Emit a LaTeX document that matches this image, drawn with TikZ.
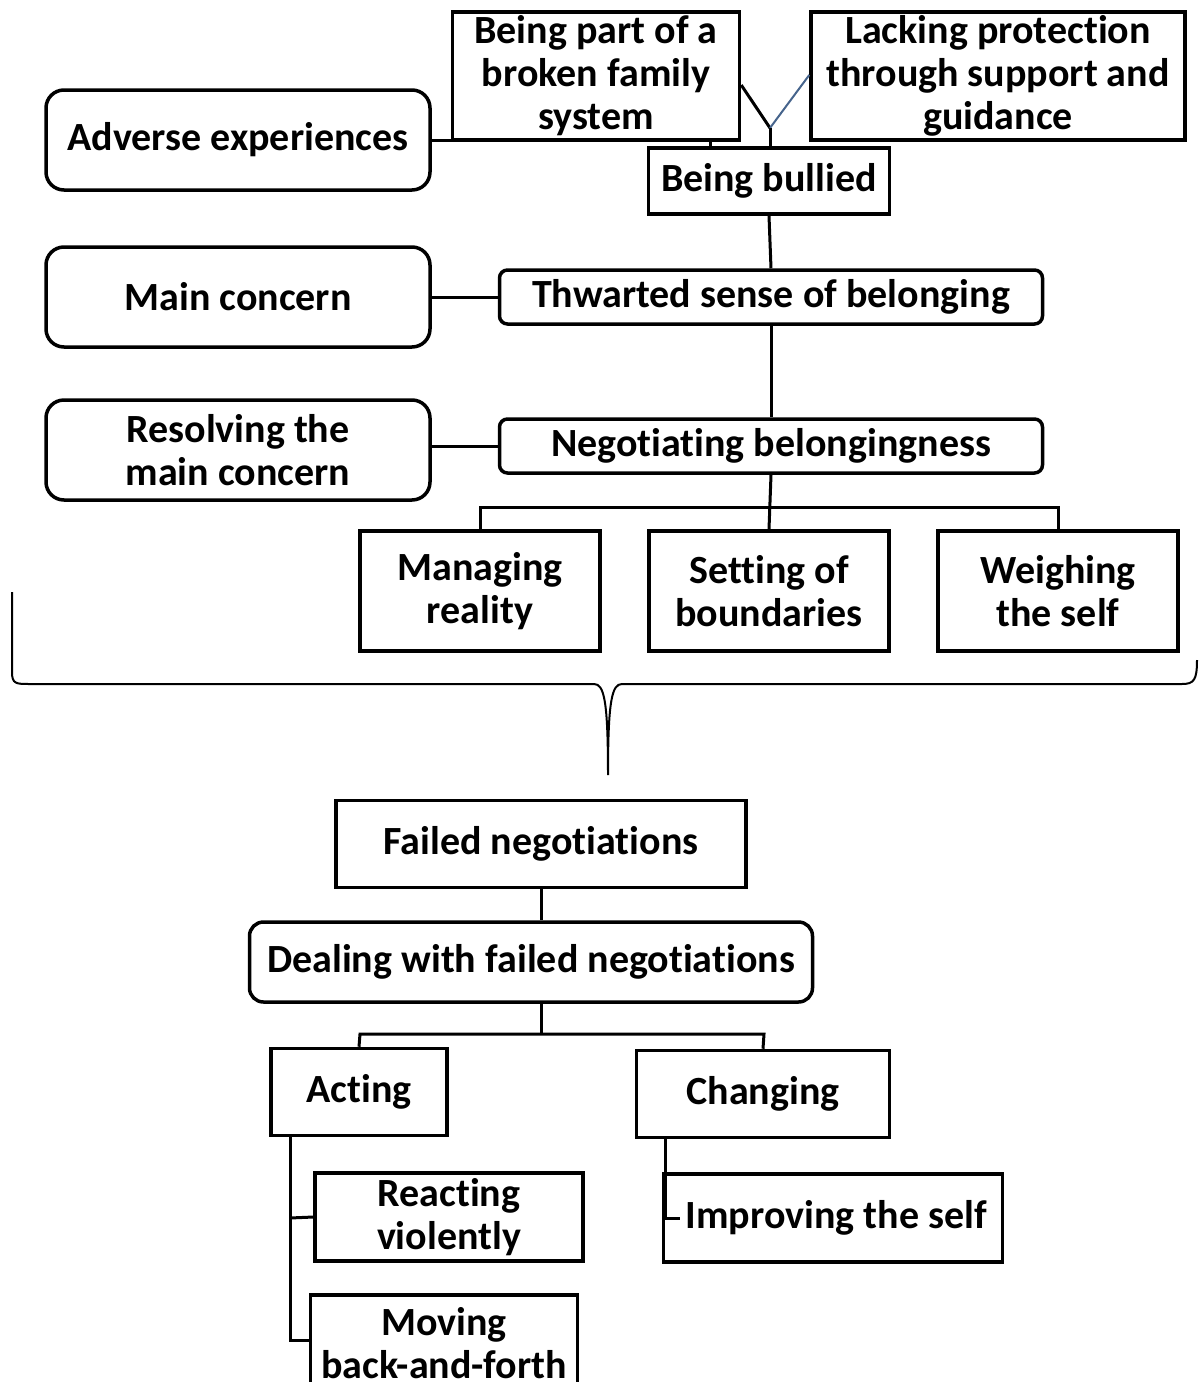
\documentclass[tikz,border=0pt]{standalone}
\usepackage{fontspec}
\setmainfont{Carlito}[Ligatures=NoCommon]
\usetikzlibrary{positioning}

\definecolor{linkblue}{RGB}{70, 100, 140}

\begin{document}
\begin{tikzpicture}[
        x=1pt, y=-1pt,
        every node/.style={font=\bfseries\fontsize{40}{43}\selectfont, align=center, inner sep=0pt},
        box/.style={draw, line width=3.5pt, fill=white},
        rbox/.style={box, rounded corners=18pt},
        sbox/.style={box, rounded corners=8pt},
        link/.style={line width=3pt}
    ]
    \useasboundingbox (0, 0) rectangle (1200, 1382);
    \clip (0, 0) rectangle (1200, 1382);

    % top part
    \node[rbox, minimum width=384pt, minimum height=100pt] (adverse) at (238, 140) {Adverse experiences};
    \node[box, minimum width=287pt, minimum height=128pt] (family) at (596, 76) {Being part of a\\broken family\\system};
    \node[box, minimum width=374pt, minimum height=128pt] (lacking) at (998, 76) {Lacking protection\\through support and\\guidance};
    \node[box, minimum width=241pt, minimum height=66pt] (bullied) at (769, 181) {Being bullied};
    \node[rbox, minimum width=384pt, minimum height=100pt] (mainc) at (238, 297) {Main concern};
    \node[sbox, minimum width=543pt, minimum height=54pt] (thwarted) at (771, 297) {Thwarted sense of belonging};
    \node[rbox, minimum width=384pt, minimum height=100pt] (resolving) at (238, 450) {Resolving the\\main concern};
    \node[sbox, minimum width=543pt, minimum height=54pt] (negot) at (771, 446) {Negotiating belongingness};
    \node[box, minimum width=240pt, minimum height=120pt] (managing) at (480, 591) {Managing\\reality};
    \node[box, minimum width=240pt, minimum height=120pt] (setting) at (769, 591) {Setting of\\boundaries};
    \node[box, minimum width=240pt, minimum height=120pt] (weighing) at (1058, 591) {Weighing\\the self};

    \coordinate (meet) at (770, 128);
    \draw[link] (family.east |- 0, 85) -- (meet);
    \draw[line width=2pt, linkblue] (lacking.west |- 0, 75) -- (meet);
    \draw[link] (meet) -- (bullied.north -| meet);
    \draw[link] (adverse.east) -- (710, 140) -- (710, 148);
    \draw[link] (bullied.south) -- (thwarted.north);
    \draw[link] (mainc.east) -- (thwarted.west);
    \draw[link] (thwarted.south) -- (negot.north);
    \draw[link] (resolving.east |- negot.west) -- (negot.west);
    \draw[link] (negot.south) -- (setting.north);
    \draw[link] (managing.north) -- (480, 507) -- (1058, 507) -- (weighing.north);

    % brace
    \draw[line width=2pt] (12, 592) -- (12, 672) .. controls (12, 684) and (16, 684) .. (30, 684)
        -- (594, 684) .. controls (604, 684) and (608, 700) .. (608, 775)
        .. controls (608, 700) and (612, 684) .. (622, 684) -- (1182, 684)
        .. controls (1194, 684) and (1197, 680) .. (1197, 660);

    % bottom part
    \node[box, minimum width=410pt, minimum height=87pt] (failed) at (541, 844) {Failed negotiations};
    \node[rbox, rounded corners=14pt, minimum width=563pt, minimum height=80pt] (dealing) at (531, 962) {Dealing with failed negotiations};
    \node[box, minimum width=176pt, minimum height=87pt] (acting) at (359, 1092) {Acting};
    \node[box, minimum width=253pt, minimum height=87pt] (changing) at (763, 1094) {Changing};
    \node[box, minimum width=268pt, minimum height=88pt] (reacting) at (449, 1217) {Reacting\\violently};
    \node[box, minimum width=267pt, minimum height=96pt] (moving) at (444, 1343) {Moving\\back-and-forth};
    \node[box, minimum width=339pt, minimum height=88pt] (improving) at (833, 1218) {\,Improving the self};

    \draw[link] (failed.south -| 541, 0) -- (dealing.north -| 541, 0);
    \draw[link] (dealing.south -| 541, 0) -- (541, 1034);
    \draw[link] (acting.north) -- (360, 1034) -- (764, 1034) -- (changing.north);
    \draw[link] (acting.south -| 290, 0) -- (290, 1340) -- (moving.west |- 0, 1340);
    \draw[link] (290, 1218) -- (reacting.west);
    \draw[link] (changing.south -| 665, 0) -- (665, 1218) -- (680, 1218);
\end{tikzpicture}
\end{document}
